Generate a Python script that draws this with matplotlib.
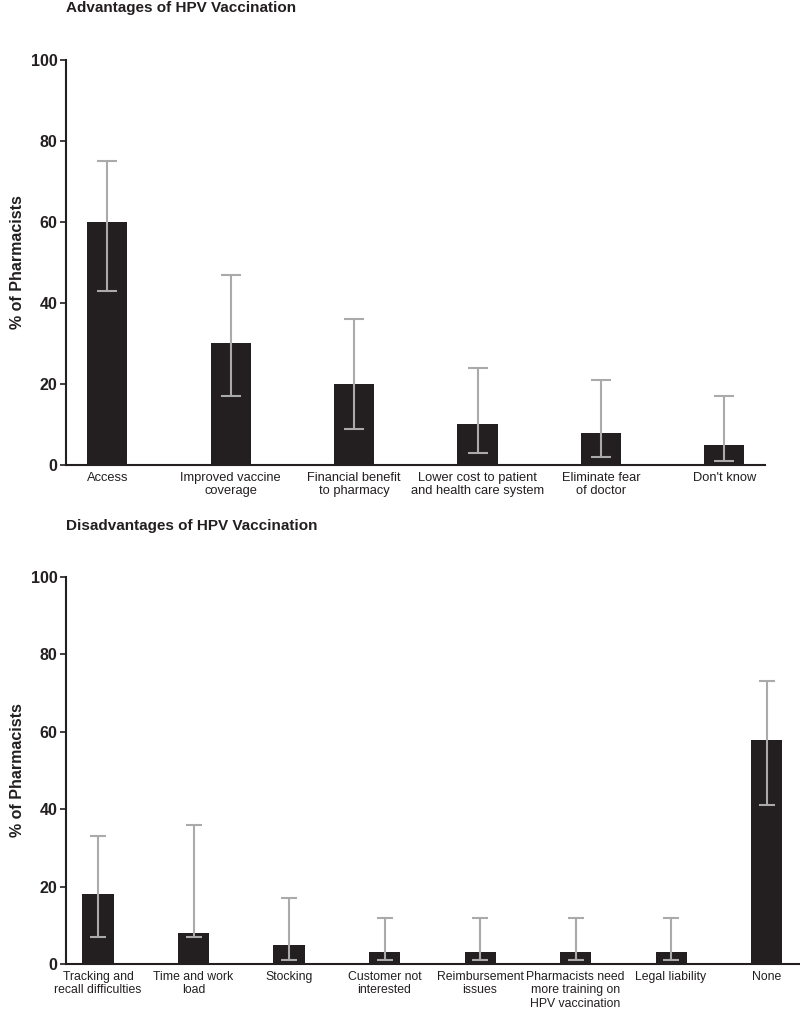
import numpy as np
import matplotlib.pyplot as plt

# Datos
adv_labels = ["Access", "Improved vaccine\ncoverage", "Financial benefit\nto pharmacy",
              "Lower cost to patient\nand health care system", "Eliminate fear\nof doctor",
              "Don't know"]
adv_values = [60, 30, 20, 10, 8, 5]
adv_low = [43, 17, 9, 3, 2, 1]
adv_high = [75, 47, 36, 24, 21, 17]

dis_labels = ["Tracking and\nrecall difficulties", "Time and work\nload", "Stocking",
              "Customer not\ninterested", "Reimbursement\nissues",
              "Pharmacists need\nmore training on\nHPV vaccination", "Legal liability", "None"]
dis_values = [18, 8, 5, 3, 3, 3, 3, 58]
dis_low = [7, 7, 1, 1, 1, 1, 1, 41]
dis_high = [33, 36, 17, 12, 12, 12, 12, 73]

bar_color = "#231f20"
err_color = "#aaaaaa"
plt.rcParams['font.family'] = ["Liberation Sans", "DejaVu Sans"]

fig = plt.figure(figsize=(8, 10.13), dpi=100)
H = 1013.0

def panel(rect, labels, values, low, high, xlim, width, capsize, title, title_y, lsize):
    ax = fig.add_axes(rect)
    x = np.arange(len(values))
    vals = np.array(values)
    yerr = np.array([vals - np.array(low), np.array(high) - vals])
    ax.bar(x, vals, width=width, color=bar_color, zorder=2)
    ax.errorbar(x, vals, yerr=yerr, fmt='none', ecolor=err_color, elinewidth=1.5,
                capsize=capsize, capthick=1.5, zorder=3)
    ax.set_xlim(*xlim)
    ax.set_ylim(0, 100)
    ax.set_yticks([0, 20, 40, 60, 80, 100])
    ax.set_xticks(x)
    ax.set_xticklabels(labels, fontsize=lsize, color="#231f20", linespacing=1.15)
    for s in ["top", "right"]:
        ax.spines[s].set_visible(False)
    for s in ["left", "bottom"]:
        ax.spines[s].set_linewidth(1.5)
        ax.spines[s].set_color("#231f20")
    ax.tick_params(axis='x', length=0, pad=5)
    ax.tick_params(axis='y', length=4, width=1.2, labelsize=11.5, pad=2, colors="#231f20")
    for t in ax.get_yticklabels():
        t.set_fontweight('bold')
    ax.set_ylabel("% of Pharmacists", fontsize=11.5, fontweight='bold', color="#231f20")
    w_px = rect[2] * 800
    ax.yaxis.set_label_coords(-41 / w_px, 0.5)
    fig.text(66 / 800, 1 - title_y / H, title, fontsize=11, fontweight='bold',
             va='center', ha='left', color="#231f20")
    return ax

# Panel superior
panel([66 / 800, 1 - 465 / H, (765 - 66) / 800, (465 - 60) / H],
      adv_labels, adv_values, adv_low, adv_high, (-0.335, 5.33), 0.325, 7,
      "Advantages of HPV Vaccination", 8, 9.3)

# Panel inferior
panel([66 / 800, 1 - 964 / H, (800 - 66) / 800, (964 - 577) / H],
      dis_labels, dis_values, dis_low, dis_high, (-0.335, 7.35), 0.325, 5.5,
      "Disadvantages of HPV Vaccination", 526, 8.8)

fig.savefig("out.png", dpi=100)
